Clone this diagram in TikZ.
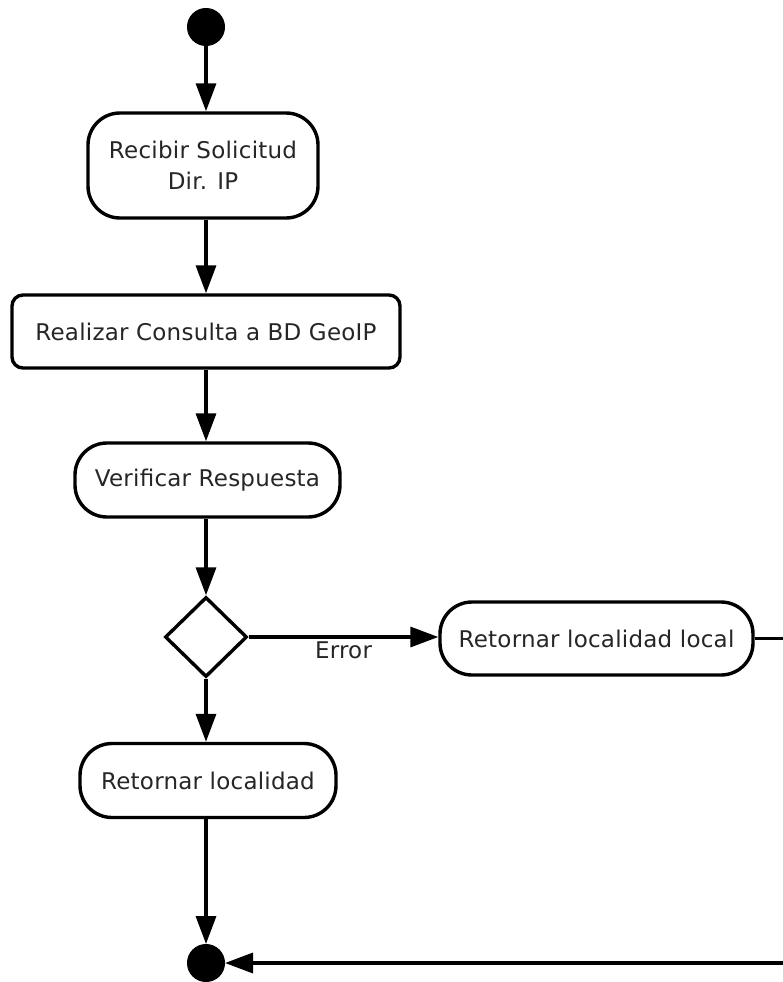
\documentclass[tikz,border=0pt]{standalone}
\usepackage{fontspec}
\setmainfont{DejaVu Sans}[LetterSpace=1]
\usetikzlibrary{arrows.meta,shapes.geometric}
\begin{document}
\begin{tikzpicture}[x=1pt,y=-1pt,
  every node/.style={font=\fontsize{23}{31}\selectfont, text=black!85},
  action/.style={draw=black, line width=3.4pt, fill=white, inner sep=0pt,
                 align=center, rounded corners=32pt},
  flow/.style={line width=3.4pt, -{Triangle[length=28pt,width=20pt]}},
  dot/.style={circle, fill=black, draw=black, line width=1pt, inner sep=0pt},
  choice/.style={diamond, draw=black, line width=3.4pt, fill=white, inner sep=0pt,
                 minimum width=82pt, minimum height=80pt}]

  % page frame
  \fill[white] (0,0) rectangle (783,982);
  \useasboundingbox (0,0) rectangle (783,982);

  % nodes
  \node[dot, minimum size=37pt] (start) at (206,27) {};
  \node[action, minimum width=230pt, minimum height=105pt] (recv) at (203,165.5)
       {Recibir Solicitud\\Dir. IP};
  \node[action, rounded corners=11pt, minimum width=388pt, minimum height=73pt]
       (query) at (206,331.5) {Realizar Consulta a BD GeoIP};
  \node[action, minimum width=265pt, minimum height=74pt] (check) at (207.5,480)
       {Verificar Respuesta};
  \node[choice] (dec) at (206,637) {};
  \node[action, minimum width=313pt, minimum height=73pt] (loclocal) at (596.5,638.5)
       {Retornar localidad local};
  \node[action, minimum width=256pt, minimum height=74pt] (loc) at (208,780.5)
       {Retornar localidad};
  \node[dot, minimum size=37pt] (stop) at (206,963) {};

  % flow
  \draw[flow] (start.south) -- (start.south |- recv.north);
  \draw[flow] (start.south |- recv.south) -- (start.south |- query.north);
  \draw[flow] (start.south |- query.south) -- (start.south |- check.north);
  \draw[flow] (start.south |- check.south) -- (dec.north);
  \draw[flow] (dec.east) -- node[below, inner sep=3pt] {Error} (loclocal.west |- dec.east);
  \draw[flow] (dec.south) -- (dec.south |- loc.north);
  \draw[flow] (dec.south |- loc.south) -- (stop.north);
  \coordinate (turn) at (800,638.5);
  \draw[flow] (loclocal.east) -- (turn) |- (stop.east);
\end{tikzpicture}
\end{document}
